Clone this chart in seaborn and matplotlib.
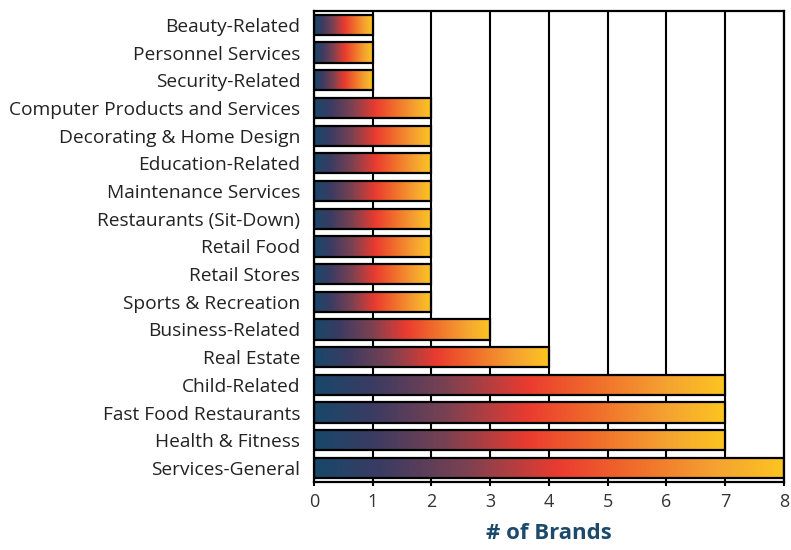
import numpy as np
import pandas as pd
import matplotlib
matplotlib.use("Agg")
import matplotlib.pyplot as plt
from matplotlib.colors import LinearSegmentedColormap
import seaborn as sns

# Data
categories = [
    "Beauty-Related", "Personnel Services", "Security-Related",
    "Computer Products and Services", "Decorating & Home Design",
    "Education-Related", "Maintenance Services", "Restaurants (Sit-Down)",
    "Retail Food", "Retail Stores", "Sports & Recreation",
    "Business-Related", "Real Estate", "Child-Related",
    "Fast Food Restaurants", "Health & Fitness", "Services-General",
]
brands = [1, 1, 1, 2, 2, 2, 2, 2, 2, 2, 2, 3, 4, 7, 7, 7, 8]
x_ticks = [0, 1, 2, 3, 4, 5, 6, 7, 8]

df = pd.DataFrame({"category": categories, "brands": brands})

sns.set_style("white")
plt.rcParams["font.family"] = ["Open Sans", "DejaVu Sans"]

fig = plt.figure(figsize=(7.91, 5.5), dpi=100)
ax = fig.add_axes([0.397, 0.124, 0.594, 0.856])

sns.barplot(data=df, x="brands", y="category", orient="h", ax=ax,
            width=0.73, color="white", edgecolor="black", linewidth=1.6,
            zorder=3)

# gradient fill for each bar
grad = LinearSegmentedColormap.from_list("bar", [
    (0.00, "#17486a"), (0.14, "#3b3b62"), (0.32, "#7a4152"),
    (0.52, "#ea3b2f"), (0.68, "#f06c2b"), (0.86, "#f5a331"),
    (1.00, "#fcc521"),
])
gradient = np.linspace(0, 1, 256).reshape(1, -1)
for patch in ax.patches:
    x0, y0 = patch.get_x(), patch.get_y()
    w, h = patch.get_width(), patch.get_height()
    im = ax.imshow(gradient, cmap=grad, aspect="auto",
                   extent=[x0, x0 + w, y0 + h, y0], zorder=2.5,
                   interpolation="bicubic")
    im.set_clip_path(patch)
    patch.set_facecolor("none")

ax.set_xlim(0, 8)
ax.set_ylim(len(categories) - 0.5, -0.5)
ax.set_xticks(x_ticks)
ax.grid(axis="x", color="black", linewidth=1.5, zorder=1)
ax.set_axisbelow(True)
for s in ax.spines.values():
    s.set_color("black")
    s.set_linewidth(1.6)

ax.tick_params(axis="x", direction="out", length=3, width=1.5, pad=5,
               labelsize=13, colors="black", labelcolor="#333333", bottom=True)
ax.tick_params(axis="y", length=0, labelsize=13.8, labelcolor="#222222", pad=10)
ax.set_ylabel("")
ax.set_xlabel("# of Brands", fontsize=16, fontweight="bold",
              color="#1d4a6b", labelpad=9)

fig.savefig("out.png", dpi=100)
